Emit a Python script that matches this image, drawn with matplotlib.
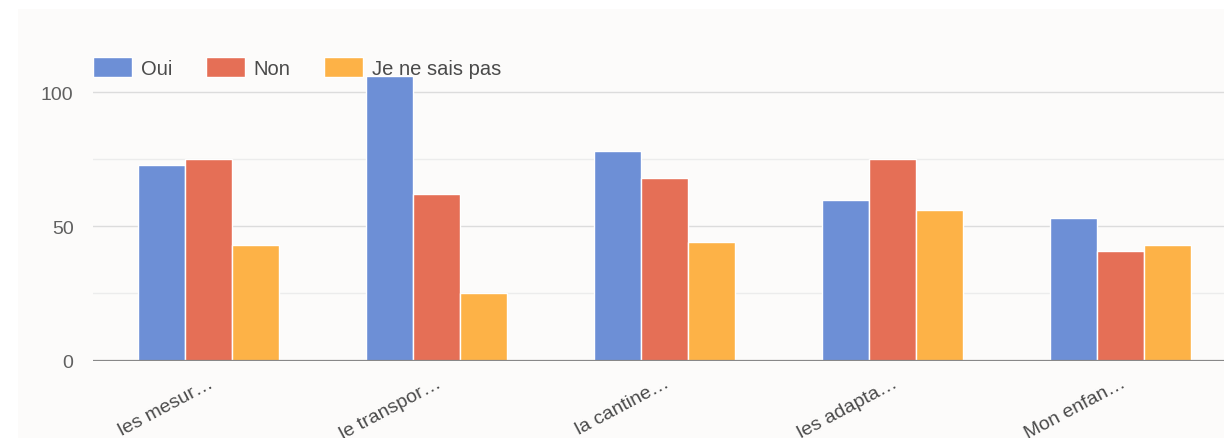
import numpy as np
import matplotlib.pyplot as plt
from matplotlib.patches import Rectangle

plt.rcParams['font.family'] = ['Liberation Sans', 'DejaVu Sans']

categories = ['les mesur…', 'le transpor…', 'la cantine…', 'les adapta…', 'Mon enfan…']
oui = [73, 106, 78, 60, 53]
non = [75, 62, 68, 75, 41]
nsp = [43, 25, 44, 56, 43]
series = [('Oui', oui, '#6d8fd6'), ('Non', non, '#e56f56'), ('Je ne sais pas', nsp, '#fdb247')]

W, H = 1224, 439
fig = plt.figure(figsize=(W / 100, H / 100), dpi=100)
fig.patch.set_facecolor('white')
bg = Rectangle((18 / W, 0), 1 - 18 / W, 1 - 10 / H, transform=fig.transFigure,
               facecolor='#fcfbfa', edgecolor='none', zorder=-10)
fig.add_artist(bg)

# zero line at y=361.5 px, 100 at y=93.3 px
ax = fig.add_axes([93 / W, (H - 361.5) / H, 1 - 93 / W, (361.5 - 40) / H])
ax.set_facecolor('none')
ax.set_zorder(1)

x = np.arange(len(categories))
w = 0.206
for i, (name, vals, col) in enumerate(series):
    ax.bar(x + (i - 1) * w, vals, w, color=col, edgecolor='white', linewidth=1,
           label=name, zorder=3)

ax.set_xlim(-0.507, 4.454)
ax.set_ylim(0, 321.5 / 2.682)
ax.set_yticks([0, 50, 100])
ax.set_yticks([25, 75], minor=True)
ax.grid(axis='y', which='major', color='#dcdcdc', linewidth=1, zorder=0)
ax.grid(axis='y', which='minor', color='#ececec', linewidth=1, zorder=0)
ax.axhline(0, color='#888888', linewidth=1.6, zorder=4)
for s in ax.spines.values():
    s.set_visible(False)

ax.tick_params(axis='y', which='both', length=0, pad=14, labelsize=14, labelcolor='#606060')
ax.tick_params(axis='x', length=0, pad=10, labelsize=14, labelcolor='#4a4a4a')
ax.set_xticks(x)
ax.set_xticklabels(categories, rotation=28, ha='right', rotation_mode='anchor')

leg = ax.legend(loc='upper left', bbox_to_anchor=(93 / W, 1 - 58 / H),
                bbox_transform=fig.transFigure, ncol=3, frameon=False,
                fontsize=14.5, handlelength=1.94, handleheight=1.15,
                handletextpad=0.45, columnspacing=1.65, borderaxespad=0, borderpad=0)
for t in leg.get_texts():
    t.set_color('#4a4a4a')

fig.savefig('out.png', dpi=100, facecolor=fig.get_facecolor())
